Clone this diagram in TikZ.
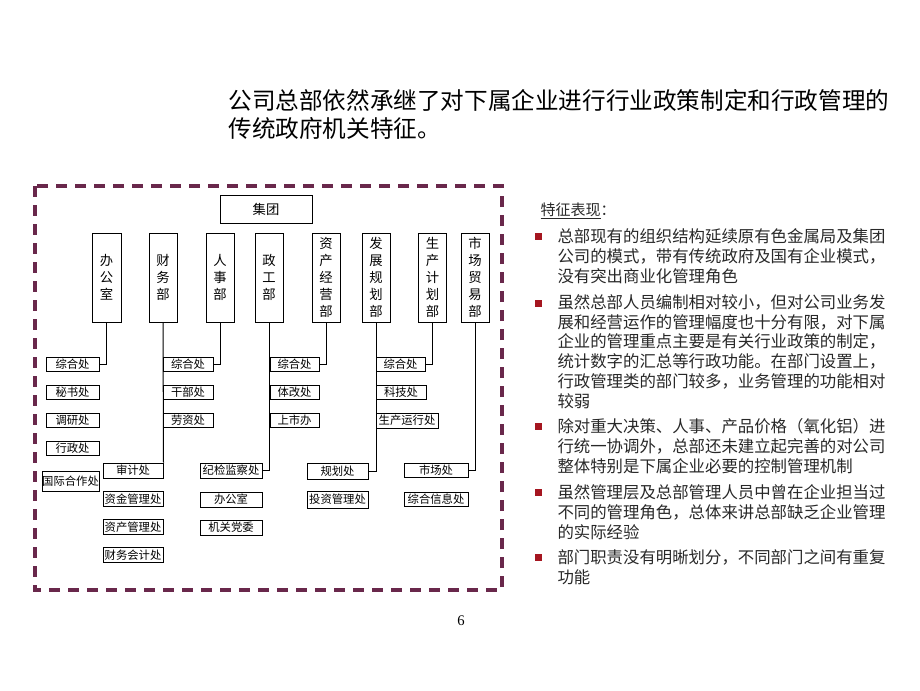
\documentclass[tikz,border=0pt]{standalone}
\usepackage{fontspec}
\setmainfont{Noto Sans CJK SC}
\newfontfamily\numfont{Liberation Serif}

\tikzset{every picture/.style={line width=0.75pt}}
\tikzset{
  grp/.style={draw, minimum width=69pt, minimum height=21pt, inner sep=0pt, font=\fontsize{10}{12}\selectfont},
  dept/.style={draw, minimum width=21pt, minimum height=66.75pt, inner sep=0pt, align=center, font=\fontsize{10}{12.75}\selectfont},
  unit/.style={draw, minimum height=10.5pt, inner sep=0pt, font=\fontsize{8.5}{10}\selectfont},
  sqbullet/.style={fill={rgb, 255:red, 165; green, 22; blue, 32 }, minimum size=5.25pt, inner sep=0pt},
  para/.style={anchor=base west, align=left, inner sep=0pt, text={rgb, 255:red, 40; green, 40; blue, 40 }, font=\fontsize{12.3}{14.8}\selectfont}
}

\begin{document}
\begin{tikzpicture}[x=0.75pt,y=0.75pt,yscale=-1,xscale=1]
\useasboundingbox (0,0) rectangle (920,690);

%Shape: Rectangle [frame]
\draw [color={rgb, 255:red, 105; green, 40; blue, 75 }, line width=2.4pt, dash pattern=on 8.25pt off 6pt] (35,186) rectangle (502,590);

% Text Node (base = last line)
\draw (228,137) node (title) [anchor=base west, align=left, inner sep=0pt, font=\fontsize{17.7}{21}\selectfont] {公司总部依然承继了对下属企业进行行业政策制定和行政管理的\\传统政府机关特征。};

% Group and departments
\draw (266,209) node (jt) [grp] {集团};
\draw (106.5,277.5) node (bgs) [dept, minimum width=21.75pt] {办\\公\\室};
\draw (163,277.5) node (cwb) [dept] {财\\务\\部};
\draw (220,277.5) node (rsb) [dept] {人\\事\\部};
\draw (269,277.5) node (zgb) [dept] {政\\工\\部};
\draw (326,277.5) node (zcb) [dept] {资\\产\\经\\营\\部};
\draw (376,277.5) node (fzb) [dept] {发\\展\\规\\划\\部};
\draw (432.5,277.5) node (scb) [dept] {生\\产\\计\\划\\部};
\draw (475,277.5) node (smb) [dept] {市\\场\\贸\\易\\部};

% Units of 办公室
\draw (72.5,364.5) node (bgs1) [unit, minimum width=39.75pt] {综合处};
\draw (72.5,392.5) node (bgs2) [unit, minimum width=39.75pt] {秘书处};
\draw (72.5,420.5) node (bgs3) [unit, minimum width=39.75pt] {调研处};
\draw (72.5,448.5) node (bgs4) [unit, minimum width=39.75pt] {行政处};
\draw (70.5,481) node (bgs5) [unit, minimum width=42.75pt, minimum height=15pt] {国际合作处};

% Units of 财务部
\draw (133,470.5) node (cwb1) [unit, minimum width=45pt, minimum height=11.25pt] {审计处};
\draw (133,499) node (cwb2) [unit, minimum width=45pt, minimum height=11.25pt] {资金管理处};
\draw (133,527) node (cwb3) [unit, minimum width=45pt, minimum height=11.25pt] {资产管理处};
\draw (133,555) node (cwb4) [unit, minimum width=45pt, minimum height=11.25pt] {财务会计处};

% Units of 人事部
\draw (188,364.5) node (rsb1) [unit, minimum width=37.5pt] {综合处};
\draw (188,392.5) node (rsb2) [unit, minimum width=37.5pt] {干部处};
\draw (188,420.5) node (rsb3) [unit, minimum width=37.5pt] {劳资处};

% Units of 政工部
\draw (231,470.5) node (zgb1) [unit, minimum width=46.5pt, minimum height=11.25pt] {纪检监察处};
\draw (231,499.5) node (zgb2) [unit, minimum width=46.5pt, minimum height=11.25pt] {办公室};
\draw (231,527.5) node (zgb3) [unit, minimum width=46.5pt, minimum height=11.25pt] {机关党委};

% Units of 资产经营部
\draw (294.5,364) node (zcb1) [unit, minimum width=36.75pt] {综合处};
\draw (294.5,392.5) node (zcb2) [unit, minimum width=36.75pt] {体改处};
\draw (294.5,420) node (zcb3) [unit, minimum width=36.75pt] {上市办};

% Units of 发展规划部
\draw (337.5,471) node (fzb1) [unit, minimum width=45.75pt, minimum height=12pt] {规划处};
\draw (337.5,499.5) node (fzb2) [unit, minimum width=45.75pt, minimum height=12.75pt] {投资管理处};

% Units of 生产计划部
\draw (400.5,364) node (scb1) [unit, minimum width=36.75pt] {综合处};
\draw (401,392.5) node (scb2) [unit, minimum width=37.5pt] {科技处};
\draw (407,420.5) node (scb3) [unit, minimum width=46.5pt, minimum height=11.25pt] {生产运行处};

% Units of 市场贸易部
\draw (436,470) node (smb1) [unit, minimum width=48pt] {市场处};
\draw (436,499) node (smb2) [unit, minimum width=48pt] {综合信息处};

%Straight Lines
\draw (bgs.south) |- (bgs1.east);
\draw (cwb.south) -- (cwb1.north east);
\draw (rsb.south) |- (rsb1.east);
\draw (zgb.south) |- (zgb1.east);
\draw (zcb.south) |- (zcb1.east);
\draw (fzb.south) |- (fzb1.east);
\draw (scb.south) |- (scb1.east);
\draw (smb.south) |- (smb1.east);

% Text Node
\draw (540,215) node (head) [anchor=base west, inner sep=0pt, text={rgb, 255:red, 40; green, 40; blue, 40 }, font=\fontsize{11.25}{13}\selectfont] {\underline{特征表现}：};

% Bullets
\draw (538,236) node (sq1) [sqbullet] {};
\draw (538,303) node (sq2) [sqbullet] {};
\draw (538,426) node (sq3) [sqbullet] {};
\draw (538,492) node (sq4) [sqbullet] {};
\draw (538,557) node (sq5) [sqbullet] {};

% Text Node (base = last line)
\draw (557,282) node (p1) [para] {总部现有的组织结构延续原有色金属局及集团\\公司的模式，带有传统政府及国有企业模式，\\没有突出商业化管理角色};
% Text Node
\draw (557,407) node (p2) [para] {虽然总部人员编制相对较小，但对公司业务发\\展和经营运作的管理幅度也十分有限，对下属\\企业的管理重点主要是有关行业政策的制定，\\统计数字的汇总等行政功能。在部门设置上，\\行政管理类的部门较多，业务管理的功能相对\\较弱};
% Text Node
\draw (557,472) node (p3) [para] {除对重大决策、人事、产品价格（氧化铝）进\\行统一协调外，总部还未建立起完善的对公司\\整体特别是下属企业必要的控制管理机制};
% Text Node
\draw (557,538) node (p4) [para] {虽然管理层及总部管理人员中曾在企业担当过\\不同的管理角色，总体来讲总部缺乏企业管理\\的实际经验};
% Text Node
\draw (557,583) node (p5) [para] {部门职责没有明晰划分，不同部门之间有重复\\功能};

% Text Node
\draw (461,621) node (pg) [font=\numfont\fontsize{11}{13}\selectfont] {6};

\end{tikzpicture}
\end{document}
